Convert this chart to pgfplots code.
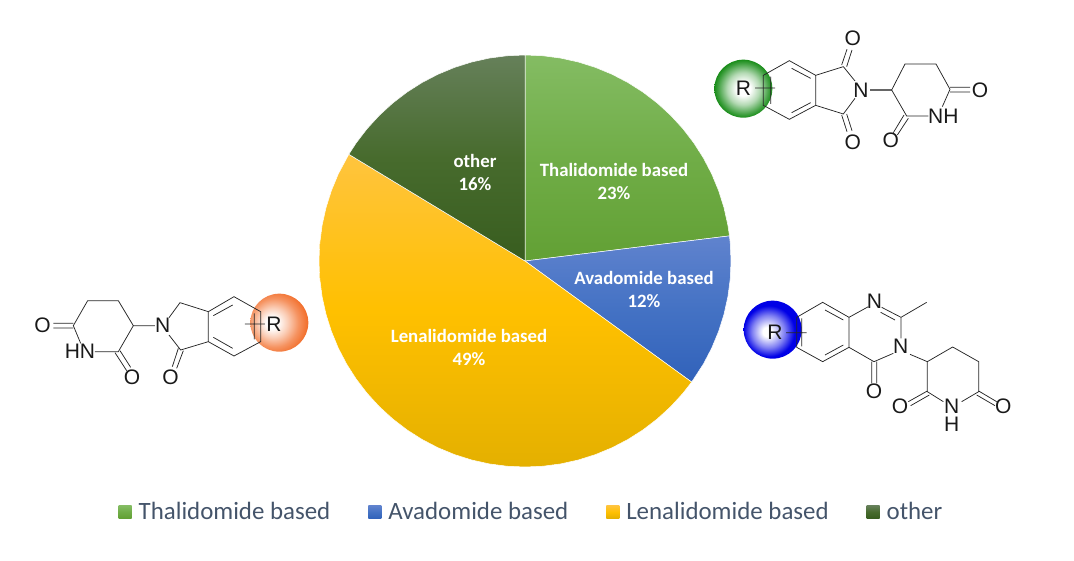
\documentclass[border=0pt]{standalone}
\usepackage{fontspec}
\setmainfont{Carlito}
\newfontfamily\molfont{Liberation Sans}
\usepackage{pgfplots}
\pgfplotsset{compat=1.18}
\usepgfplotslibrary{polar}

% wedge colours, top to bottom
\definecolor{gtop}{HTML}{84BC63}\definecolor{gmid}{HTML}{70AD47}\definecolor{gbot}{HTML}{62A034}
\definecolor{btop}{HTML}{6083CE}\definecolor{bmid}{HTML}{4472C4}\definecolor{bbot}{HTML}{3162BA}
\definecolor{ytop}{HTML}{FFC43E}\definecolor{ymid}{HTML}{FFC000}\definecolor{ybot}{HTML}{E4B000}
\definecolor{dtop}{HTML}{66805A}\definecolor{dmid}{HTML}{476B2D}\definecolor{dbot}{HTML}{385D1F}
\definecolor{legtext}{HTML}{44546A}

% balls behind the R groups
\definecolor{ballgr}{HTML}{008000}
\pgfdeclareradialshading{ballgreen}{\pgfpoint{0bp}{0bp}}{color(0bp)=(white); color(6bp)=(white); color(14bp)=(ballgr!30!white); color(22bp)=(ballgr!75!white); color(27bp)=(ballgr); color(60bp)=(ballgr)}
\definecolor{ballor}{HTML}{F26F2C}
\pgfdeclareradialshading{ballorange}{\pgfpoint{-7bp}{0bp}}{color(0bp)=(white); color(5bp)=(white); color(13bp)=(ballor!35!white); color(21bp)=(ballor!75!white); color(28bp)=(ballor); color(60bp)=(ballor)}
\definecolor{ballbl}{HTML}{0000E6}
\pgfdeclareradialshading{ballblue}{\pgfpoint{-5bp}{-2bp}}{color(0bp)=(white); color(4bp)=(white); color(14bp)=(ballbl!50!white); color(22bp)=(ballbl); color(60bp)=(ballbl)}

\tikzset{bond/.style={line width=0.75pt,draw=black!85},
  atom/.style={font=\molfont\fontsize{21}{18}\selectfont,inner sep=0pt,text=black!90,align=center},
  pct/.style={font=\bfseries\fontsize{18.8}{23}\selectfont,text=white,align=center},
  wedge/.style={draw=white,line width=0.5pt}}

\begin{document}
\begin{tikzpicture}
\useasboundingbox (0pt,0pt) rectangle (1074pt,560pt);
\begin{axis}[
    x=1pt,y=1pt,
    xmin=-525,xmax=549,ymin=-299,ymax=261,
    hide axis,clip=false,
    legend columns=-1,
    legend cell align=left,
    legend style={at={(axis cs:6.5,-251)},anchor=center,draw=none,fill=none,
        text=legtext,font=\fontsize{24.9}{27}\selectfont,
        inner sep=0pt,
        /tikz/every even column/.append style={column sep=36pt},
        /tikz/every odd column/.append style={column sep=5pt}},
    legend image code/.code={\path[#1,draw=none] (0pt,-6.5pt) rectangle (13pt,6.5pt);},
]
% Thalidomide based, 23 %
\addplot[data cs=polar,wedge,top color=gtop,bottom color=gbot,middle color=gmid] coordinates {
  (0,0) (90,206) (85,206) (80,206) (75,206) (70,206) (65,206) (60,206) (55,206) (50,206)
  (45,206) (40,206) (35,206) (30,206) (25,206) (20,206) (15,206) (10,206) (7,206) (0,0)};
\addlegendentry{Thalidomide based}
% Avadomide based, 12 %
\addplot[data cs=polar,wedge,top color=btop,bottom color=bbot,middle color=bmid] coordinates {
  (0,0) (7,206) (5,206) (0,206) (-5,206) (-10,206) (-15,206) (-20,206) (-25,206) (-30,206) (-36,206) (0,0)};
\addlegendentry{Avadomide based}
% Lenalidomide based, 49 %
\addplot[data cs=polar,wedge,top color=ytop,bottom color=ybot,middle color=ymid] coordinates {
  (0,0) (-36,206) (-40,206) (-45,206) (-50,206) (-55,206) (-60,206) (-65,206) (-70,206) (-75,206)
  (-80,206) (-85,206) (-90,206) (-95,206) (-100,206) (-105,206) (-110,206) (-115,206) (-120,206)
  (-125,206) (-130,206) (-135,206) (-140,206) (-145,206) (-150,206) (-155,206) (-160,206) (-165,206)
  (-170,206) (-175,206) (-180,206) (-185,206) (-190,206) (-195,206) (-200,206) (-205,206) (-211.2,206) (0,0)};
\addlegendentry{Lenalidomide based}
% other, 16 %
\addplot[data cs=polar,wedge,top color=dtop,bottom color=dbot,middle color=dmid] coordinates {
  (0,0) (148.8,206) (145,206) (140,206) (135,206) (130,206) (125,206) (120,206) (115,206) (110,206)
  (105,206) (100,206) (95,206) (90,206) (0,0)};
\addlegendentry{other}
\end{axis}

% wedge labels, in image pixels
\begin{scope}[x=1pt,y=-1pt,shift={(0pt,560pt)}]
\node[pct] at (614,181) {Thalidomide based\\23\%};
\node[pct] at (644,289) {Avadomide based\\12\%};
\node[pct] at (469,347) {Lenalidomide based\\49\%};
\node[pct] at (475,172) {other\\16\%};
\end{scope}

% thalidomide structure
\begin{scope}[x=0.33333pt,y=-0.33333pt,shift={(700pt,550pt)}]
\shade[shading=ballgreen] (130,236) circle[radius=29pt];
\draw[bond] (190,196)--(268,152)--(347,196)--(347,286)--(268,328)--(190,286)--cycle;
\draw[bond] (275,175)--(332,205) (332,278)--(275,308) (212,200)--(212,282) (165,234)--(225,234);
\draw[bond] (347,196)--(430,170)--(465,213) (347,286)--(430,312)--(465,265);
\draw[bond] (425,165)--(441,118) (440,170)--(456,120) (425,315)--(441,365) (440,312)--(456,362);
\draw[bond,line width=1.1pt,draw=black!60] (510,240)--(575,240);
\draw[bond] (575,240)--(615,162)--(708,162)--(750,238)--(727,290) (685,318)--(620,318)--(575,240);
\draw[bond] (750,232)--(810,232) (750,246)--(810,246) (612,315)--(580,368) (625,325)--(592,375);
\node[atom] at (130,234) {R};
\node[atom] at (483,240) {N};
\node[atom] at (458,85) {O};
\node[atom] at (458,397) {O};
\node[atom] at (730,318) {NH};
\node[atom] at (840,240) {O};
\node[atom] at (572,392) {O};
\end{scope}

% lenalidomide structure
\begin{scope}[x=0.33333pt,y=-0.33333pt,shift={(20pt,280pt)}]
\shade[shading=ballorange] (778,128) circle[radius=29pt];
\draw[bond] (565,95)--(642,50)--(722,95)--(722,185)--(642,228)--(565,185)--cycle;
\draw[bond] (580,107)--(638,75) (580,172)--(638,205) (703,100)--(703,178) (675,132)--(735,132);
\draw[bond] (565,95)--(480,68)--(447,113) (565,185)--(482,210)--(447,165);
\draw[bond] (475,205)--(457,260) (490,212)--(470,265);
\draw[bond] (405,137)--(340,137)--(295,62)--(203,62)--(160,137)--(182,190) (225,215)--(295,215)--(340,137);
\draw[bond] (100,130)--(160,130) (100,144)--(160,144) (285,218)--(320,272) (300,212)--(332,262);
\node[atom] at (762,132) {R};
\node[atom] at (428,137) {N};
\node[atom] at (452,293) {O};
\node[atom] at (180,215) {HN};
\node[atom] at (68,137) {O};
\node[atom] at (336,291) {O};
\end{scope}

% avadomide structure
\begin{scope}[x=0.33333pt,y=-0.33333pt,shift={(730pt,275pt)}]
\shade[shading=ballblue] (128,134) circle[radius=29pt];
\draw[bond] (200,97)--(278,52)--(357,97)--(357,187)--(278,230)--(200,187)--cycle;
\draw[bond] (285,75)--(340,105) (340,180)--(285,210) (215,100)--(215,184) (168,143)--(230,143);
\draw[bond] (357,97)--(415,65) (455,67)--(513,97)--(590,52) (452,82)--(495,105) (513,97)--(513,160);
\draw[bond] (490,205)--(432,230)--(357,187) (425,230)--(425,295) (440,230)--(440,295);
\draw[bond] (540,208)--(592,230)--(668,186)--(746,230)--(746,320)--(695,350) (640,350)--(592,320)--(592,230);
\draw[bond] (592,318)--(535,350) (598,330)--(542,362) (746,318)--(800,350) (740,330)--(795,362);
\node[atom] at (135,143) {R};
\node[atom] at (433,50) {N};
\node[atom] at (512,185) {N};
\node[atom] at (432,320) {O};
\node[atom] at (510,363) {O};
\node[atom] at (820,363) {O};
\node[atom] at (665,392) {N\\H};
\end{scope}
\end{tikzpicture}
\end{document}
